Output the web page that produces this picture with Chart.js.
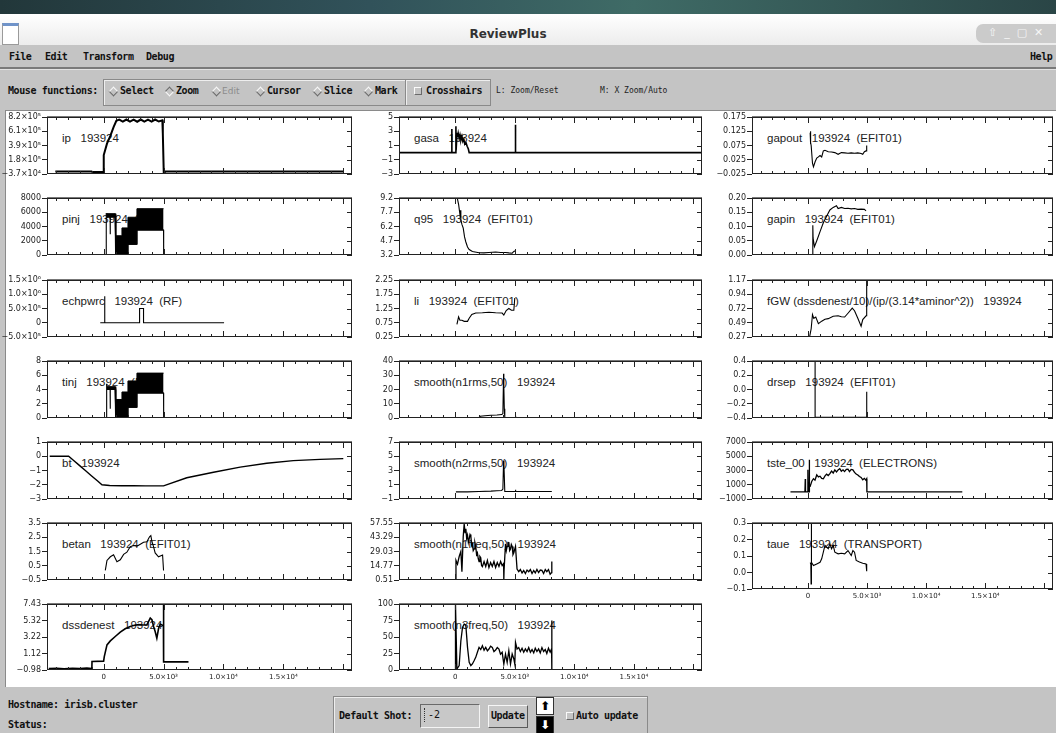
<!DOCTYPE html>
<html lang="en">
<head>
<meta charset="UTF-8">
<title>ReviewPlus</title>
<script src="https://cdn.jsdelivr.net/npm/chart.js"></script>
<style>
  body { margin: 0; width: 1056px; height: 733px; overflow: hidden; position: relative; background: #c4c4c4; font-family: 'DejaVu Sans Mono', monospace; }
  .abs { position: absolute; white-space: pre; }
  .mb { font-weight: bold; font-size: 10px; line-height: 12px; letter-spacing: -0.4px; color: #111; }
  .thin { font-size: 8px; line-height: 12px; color: #222; }
  .dia { position: absolute; width: 5px; height: 5px; border: 1px solid; border-color: #fafafa #6a6a6a #6a6a6a #fafafa; transform: rotate(45deg); }
  .dia.on { border-color: #6a6a6a #fafafa #fafafa #6a6a6a; }
  .chk { position: absolute; width: 6px; height: 6px; border: 1px solid; border-color: #fafafa #6a6a6a #6a6a6a #fafafa; }
  .ptitle { position: absolute; white-space: pre; font: 11.5px 'Liberation Sans', Arial, sans-serif; line-height: 14px; color: #222; z-index: 1; }
  .pc { position: absolute; z-index: 2; }
</style>
</head>
<body>
  <!-- window decoration -->
  <div class="abs" style="left:0;top:0;width:1056px;height:14px;background:linear-gradient(90deg,#22373a,#31525a 35%,#3f6b66 60%,#2a4546)"></div>
  <div class="abs" style="left:0;top:14px;width:1056px;height:31px;background:linear-gradient(#ffffff,#ececec)"></div>
  <div class="abs" style="left:2px;top:23px;width:15px;height:18px;background:#fff;border:1px solid #9a9a9a;border-top:3px solid #6f93c9"></div>
  <div class="abs" style="left:0;top:27px;width:1016px;text-align:center;font:bold 12px 'DejaVu Sans',sans-serif;color:#333">ReviewPlus</div>
  <div class="abs" style="left:976px;top:24px;width:86px;height:19px;background:#cbcbcb;border-radius:7px 0 0 7px"></div>
  <div class="abs" style="left:988px;top:26px;font:11px 'DejaVu Sans',sans-serif;color:#f6f6f6;line-height:14px">⇧  _  ▢  ✕</div>

  <!-- menu bar -->
  <div class="abs mb" style="left:9px;top:51px">File</div>
  <div class="abs mb" style="left:45px;top:51px">Edit</div>
  <div class="abs mb" style="left:83px;top:51px">Transform</div>
  <div class="abs mb" style="left:146px;top:51px">Debug</div>
  <div class="abs mb" style="left:1030px;top:51px">Help</div>
  <div class="abs" style="left:0;top:67px;width:1056px;height:2px;background:#7a7a7a"></div>
  <div class="abs" style="left:0;top:69px;width:1056px;height:1px;background:#e2e2e2"></div>

  <!-- mouse functions -->
  <div class="abs mb" style="left:8px;top:85px">Mouse functions:</div>
  <div class="abs" style="left:103px;top:79px;width:302px;height:25px;border:1px solid #8a8a8a;box-shadow:inset 1px 1px #eeeeee"></div>
  <div class="abs" style="left:405px;top:79px;width:84px;height:25px;border:1px solid #8a8a8a;box-shadow:inset 1px 1px #eeeeee"></div>
  <span class="dia" style="left:110px;top:88px"></span><div class="abs mb" style="left:120px;top:85px">Select</div>
  <span class="dia on" style="left:166px;top:88px"></span><div class="abs mb" style="left:176px;top:85px">Zoom</div>
  <span class="dia" style="left:213px;top:88px"></span><div class="abs" style="left:222px;top:85px;font:9px 'DejaVu Sans',sans-serif;line-height:12px;color:#8c8c8c">Edit</div>
  <span class="dia" style="left:257px;top:88px"></span><div class="abs mb" style="left:267px;top:85px">Cursor</div>
  <span class="dia" style="left:314px;top:88px"></span><div class="abs mb" style="left:324px;top:85px">Slice</div>
  <span class="dia" style="left:365px;top:88px"></span><div class="abs mb" style="left:375px;top:85px">Mark</div>
  <span class="chk" style="left:414px;top:87px"></span><div class="abs mb" style="left:426px;top:85px">Crosshairs</div>
  <div class="abs thin" style="left:496px;top:85px">L: Zoom/Reset</div>
  <div class="abs thin" style="left:600px;top:85px">M: X Zoom/Auto</div>

  <!-- plot panel -->
  <div class="abs" style="left:5px;top:110px;width:1051px;height:577px;box-sizing:border-box;background:#fff;border-top:1px solid #8a8a8a;border-left:1px solid #8a8a8a;z-index:0"></div>

  <!-- bottom bar -->
  <div class="abs mb" style="left:8px;top:699px">Hostname: irisb.cluster</div>
  <div class="abs mb" style="left:8px;top:719px">Status:</div>
  <div class="abs" style="left:333px;top:696px;width:313px;height:40px;border:1px solid #8a8a8a;box-shadow:inset 1px 1px #eeeeee"></div>
  <div class="abs mb" style="left:339px;top:710px">Default Shot:</div>
  <div class="abs" style="left:420px;top:704px;width:58px;height:22px;border:1px solid;border-color:#6a6a6a #f4f4f4 #f4f4f4 #6a6a6a;background:#c8c8c8"></div>
  <div class="abs" style="left:424px;top:708px;width:1px;height:14px;border-left:1px dotted #333"></div>
  <div class="abs" style="left:428px;top:709px;font:10px 'DejaVu Sans Mono',monospace;line-height:12px;color:#111">-2</div>
  <div class="abs" style="left:488px;top:705px;width:38px;height:21px;border:1px solid;border-color:#f6f6f6 #5a5a5a #5a5a5a #f6f6f6;background:#c8c8c8"></div>
  <div class="abs mb" style="left:491px;top:710px">Update</div>
  <div class="abs" style="left:536px;top:697px;width:16px;height:16px;background:#fff;border:1px solid #333;text-align:center;font:bold 12px 'DejaVu Sans',sans-serif;line-height:16px;color:#000">⬆</div>
  <div class="abs" style="left:536px;top:716px;width:16px;height:16px;background:#000;border:1px solid #333;text-align:center;font:bold 12px 'DejaVu Sans',sans-serif;line-height:16px;color:#fff">⬇</div>
  <span class="chk" style="left:566px;top:712px"></span><div class="abs mb" style="left:576px;top:710px">Auto update</div>

<script>
  // time axis (ms) shared by all panels
  const xMin = -4725, xMax = 20725;
  const xTickVals = [0, 5000, 10000, 15000];
  const xTickText = ['0', '5.0×10³', '1.0×10⁴', '1.5×10⁴'];

  // y tick labels, 5 per panel, evenly spaced from min to max
  const ipTicks = ['−3.7×10⁴', '1.8×10⁵', '3.9×10⁵', '6.1×10⁵', '8.2×10⁵'];
  const pinjTicks = ['0', '2000', '4000', '6000', '8000'];
  const echTicks = ['−5.0×10⁵', '0', '5.0×10⁵', '1.0×10⁶', '1.5×10⁶'];
  const tinjTicks = ['0', '2', '4', '6', '8'];
  const btTicks = ['−3', '−2', '−1', '0', '1'];
  const betanTicks = ['−0.5', '0.5', '1.5', '2.5', '3.5'];
  const dssTicks = ['−0.98', '1.12', '3.22', '5.32', '7.43'];
  const gasaTicks = ['−3', '−1', '1', '3', '5'];
  const q95Ticks = ['3.2', '4.7', '6.2', '7.7', '9.2'];
  const liTicks = ['0.25', '0.75', '1.25', '1.75', '2.25'];
  const n1rmsTicks = ['0', '10', '20', '30', '40'];
  const n2rmsTicks = ['−1', '1', '3', '5', '7'];
  const n1freqTicks = ['0.51', '14.77', '29.03', '43.29', '57.55'];
  const n3freqTicks = ['0', '25', '50', '75', '100'];
  const gapoutTicks = ['−0.025', '0.025', '0.075', '0.125', '0.175'];
  const gapinTicks = ['0.00', '0.05', '0.10', '0.15', '0.20'];
  const fgwTicks = ['0.27', '0.49', '0.72', '0.94', '1.17'];
  const drsepTicks = ['−0.4', '−0.2', '0.0', '0.2', '0.4'];
  const tsteTicks = ['−1000', '1000', '3000', '5000', '7000'];
  const taueTicks = ['−0.1', '0.0', '0.1', '0.2', '0.3'];

  // signals, [time, value]
  const ip = [[-4030, 1000], [-1000, 1000], [-950, -6000], [0, -6000], [10, 248000], [280, 420000], [560, 535000], [830, 668000], [1060, 763000],
    [1300, 780000], [1600, 750000], [1900, 782000], [2200, 752000], [2500, 780000], [2800, 749000], [3100, 782000], [3400, 752000],
    [3700, 780000], [4000, 750000], [4300, 782000], [4600, 752000], [4900, 770000], [4940, 572000], [5020, -37000], [5150, 1000], [20000, 1000]];
  const pinj = [[0, 0], [200, 0], [220, 5800], [540, 5600], [550, 2900], [560, 5600], [960, 5700], [970, 0], [1030, 0], [2030, 0], [2030, 1500],
    [2780, 1500], [2780, 3500], [5000, 3500], [5010, 0], [13200, 0]];
  const pinjHi = [[220, 5800], [970, 5800], [970, 0], [1030, 0], [1030, 2700], [1530, 2700], [1530, 3800], [2030, 3800], [2030, 5300], [2780, 5300], [2780, 6500], [5000, 6500]];
  const pinjLo = [[220, 5300], [970, 5300], [970, 0], [1030, 0], [1030, 0], [1530, 0], [1530, 0], [2030, 0], [2030, 1500], [2780, 1500], [2780, 3500], [5000, 3500]];
  const echpwrc = [[-280, 0], [60, 0], [60, 930000], [110, 930000], [110, 0], [3000, 0], [3000, 500000], [3330, 500000], [3330, 0], [10050, 0]];
  const tinj = [[0, 0], [200, 0], [220, 4.8], [260, 4.8], [280, 4.3], [540, 4.2], [550, 1.3], [560, 4.2], [960, 4.2], [970, 0], [1030, 0], [2030, 0],
    [2030, 1.5], [2780, 1.5], [2780, 3.5], [5000, 3.5], [5010, 0], [13200, 0]];
  const tinjHi = [[280, 4.4], [970, 4.4], [970, 0], [1030, 0], [1030, 2.6], [1530, 2.6], [1530, 3.65], [2030, 3.65], [2030, 5.2], [2780, 5.2], [2780, 6.3], [5000, 6.3]];
  const tinjLo = [[280, 4.0], [970, 4.0], [970, 0], [1030, 0], [1030, 0], [1530, 0], [1530, 0], [2030, 0], [2030, 1.5], [2780, 1.5], [2780, 3.5], [5000, 3.5]];
  const bt = [[-4500, 0], [-2920, 0], [-2500, -0.3], [-2000, -0.66], [-1500, -1.02], [-1000, -1.38], [-500, -1.74], [-140, -2.0], [500, -2.05],
    [1500, -2.07], [2500, -2.06], [3500, -2.08], [4500, -2.08], [5000, -2.08], [6940, -1.51], [9170, -1.12], [11390, -0.76], [13610, -0.49],
    [15830, -0.31], [18060, -0.22], [20000, -0.17]];
  const betan = [[140, 0.17], [280, 0.87], [560, 1.13], [830, 1.27], [1110, 0.78], [1390, 0.92], [1670, 1.3], [1940, 1.45], [2220, 1.83],
    [2500, 1.92], [2780, 1.87], [3060, 2.01], [3330, 2.15], [3610, 2.18], [3830, 2.53], [3940, 2.62], [4030, 2.2], [4170, 1.83], [4300, 1.4],
    [4580, 1.13], [4920, 1.25], [5000, 0.17]];
  const dssdenest = [[-4580, -0.8], [-3900, -0.75], [-3300, -0.82], [-2600, -0.76], [-2000, -0.8], [-1400, -0.74], [-980, -0.78], [-970, 0.1],
    [0, 0.15], [55, 0.73], [280, 2.22], [560, 2.73], [970, 3.29], [1390, 3.84], [1800, 4.27], [2220, 4.57], [2500, 4.7], [2900, 4.8], [3300, 4.75],
    [3610, 4.78], [3890, 5.64], [4030, 5.42], [4170, 4.57], [4300, 3.93], [4440, 3.07], [4580, 4.27], [4720, 4.87], [4920, 4.7], [4990, 4.6],
    [5000, 7.43], [5010, 0.05], [7080, 0.05]];
  const gasa = [[-4725, 0], [-300, 0], [-290, 3.3], [-280, 0], [40, 0], [55, 3.7], [70, 0.3], [150, 2.8], [200, 2.2], [250, 2.7], [330, 2.0],
    [400, 2.5], [480, 1.8], [560, 2.3], [640, 1.6], [720, 1.9], [800, 1.2], [900, 1.4], [1000, 0.9], [1100, 0.5], [1170, 0], [5040, 0],
    [5055, 3.9], [5070, 0], [20725, 0]];
  const q95 = [[100, 9.6], [280, 8.54], [390, 7.5], [430, 7.9], [470, 6.9], [560, 6.42], [670, 6.03], [780, 5.1], [890, 4.57], [1030, 4.05],
    [1170, 3.78], [1440, 3.57], [2000, 3.44], [2400, 3.42], [2830, 3.46], [3390, 3.52], [3800, 3.47], [4220, 3.47], [4500, 3.42], [4780, 3.39],
    [4920, 3.57], [5060, 3.65]];
  const li = [[140, 0.69], [280, 0.955], [390, 0.84], [560, 0.84], [750, 0.8], [1030, 0.8], [1170, 0.91], [1390, 1.04], [1720, 1.09], [2280, 1.1],
    [2830, 1.12], [3390, 1.1], [3940, 1.09], [4080, 1.02], [4280, 1.18], [4500, 1.25], [4720, 1.19], [4920, 1.19], [5000, 1.62]];
  const n1rms = [[55, 0.4], [2000, 0.4], [2100, 1.2], [2500, 1.6], [3000, 1.9], [3500, 2.1], [3900, 2.4], [4000, 3.0], [4060, 31], [4080, 22],
    [4120, 6.5], [4160, 0.4], [5040, 0.4], [5060, 1.5], [5080, 0.4], [8110, 0.4]];
  const n2rms = [[55, 0], [1000, 0], [2000, 0.05], [3000, 0.1], [3500, 0.15], [3900, 0.2], [4000, 0.4], [4060, 4.4], [4090, 3.8], [4160, 0.05],
    [5040, 0.05], [5060, 0.3], [5080, 0.05], [8110, 0.05]];
  const n1freq = [[55, 0.51], [60, 20.2], [190, 16.4], [330, 24.0], [470, 29.0], [560, 8.8], [670, 44.2], [750, 56.8], [820, 48], [890, 51.7],
    [960, 42], [1030, 45.4], [1100, 38], [1170, 41.6], [1240, 46], [1310, 44.2], [1380, 35], [1440, 36.6], [1510, 30], [1580, 31.6], [1650, 38],
    [1720, 34.1], [1790, 26], [1860, 27.8], [1930, 22], [2000, 18.9], [2070, 24], [2140, 22.7], [2210, 15], [2280, 13.9], [2420, 19], [2560, 14],
    [2700, 20], [2830, 13], [2970, 18], [3110, 14], [3250, 19], [3390, 13], [3530, 18], [3670, 14], [3810, 19], [3940, 15], [4060, 17],
    [4080, 0.51], [4100, 10], [4220, 36.6], [4290, 30], [4360, 34.1], [4430, 38], [4500, 37.9], [4570, 30], [4640, 31.6], [4710, 36], [4780, 34.1],
    [4850, 26], [4920, 27.8], [5060, 34.1], [5190, 11.4], [5330, 8.8], [5470, 11], [5610, 7.6], [5750, 10], [5890, 7], [6030, 10.5], [6170, 8.8],
    [6310, 11], [6450, 7], [6590, 10], [6720, 7.6], [6860, 11], [7000, 8], [7140, 10.5], [7280, 10.1], [7420, 7], [7560, 11], [7690, 8.8],
    [7830, 11], [7970, 6.3], [8100, 8], [8110, 18.9]];
  const n3freq = [[0, 0], [20, 100], [140, 1.5], [330, 6.6], [470, 44], [610, 64.6], [750, 69.7], [890, 67.2], [1030, 34.3], [1170, 11.6],
    [1310, 6.6], [1440, 9.1], [1580, 14], [1720, 19.2], [1860, 27], [2000, 34.3], [2140, 31], [2280, 36.9], [2420, 30], [2560, 34.3], [2700, 29],
    [2830, 31.8], [2970, 36], [3110, 34.3], [3250, 28], [3390, 30.3], [3530, 34], [3670, 31.8], [3800, 24], [3940, 26.8], [4080, 9.1], [4220, 24.2],
    [4360, 11.6], [4500, 29.3], [4640, 9.1], [4780, 24.2], [4920, 16.7], [5000, 9.1], [5060, 41.9], [5190, 31.8], [5330, 34], [5470, 28], [5610, 33],
    [5750, 27], [5890, 32], [6030, 28], [6170, 34], [6310, 27], [6450, 31], [6590, 26], [6720, 33], [6860, 28], [7000, 32], [7140, 26], [7280, 34],
    [7420, 28], [7560, 31], [7690, 25], [7830, 33], [7970, 27], [8090, 32], [8110, 75], [8115, 0]];
  const gapout = [[194, 0.12], [200, 0.08], [230, 0.125], [260, 0.085], [278, 0.075], [389, 0.013], [472, 0.0], [611, 0.018], [750, 0.031],
    [889, 0.035], [1028, 0.04], [1167, 0.035], [1306, 0.056], [1444, 0.058], [1722, 0.053], [2000, 0.052], [2278, 0.05], [2556, 0.044],
    [2833, 0.05], [3111, 0.049], [3389, 0.048], [3667, 0.049], [3944, 0.048], [4222, 0.049], [4500, 0.047], [4639, 0.044], [4778, 0.053],
    [4917, 0.056], [4972, 0.075]];
  const gapin = [[0, 0.002], [400, 0.002], [417, 0.104], [440, 0.06], [556, 0.029], [750, 0.05], [1028, 0.082], [1306, 0.113], [1583, 0.136],
    [1861, 0.158], [2139, 0.167], [2417, 0.173], [2556, 0.163], [2833, 0.167], [3111, 0.163], [3389, 0.164], [3667, 0.162], [3944, 0.163],
    [4222, 0.16], [4500, 0.161], [4778, 0.16], [4917, 0.155]];
  const fgw = [[111, 0.24], [278, 0.4], [389, 0.625], [500, 0.565], [667, 0.585], [889, 0.48], [1167, 0.52], [1444, 0.55], [1722, 0.56],
    [2139, 0.597], [2556, 0.605], [2833, 0.59], [3111, 0.585], [3389, 0.645], [3750, 0.726], [3944, 0.685], [4222, 0.565], [4500, 0.44],
    [4639, 0.545], [4917, 0.605], [4972, 1.2]];
  const drsep = [[400, 0.4], [610, 0.4], [611, -0.39], [4972, -0.39], [4975, -0.03]];
  const tste = [[-1472, 0], [-250, 0], [-222, 1800], [-200, 0], [-30, 0], [0, 3090], [30, 0], [100, 0], [111, 4500], [125, 0], [150, 800],
    [194, 778], [333, 1490], [472, 1840], [600, 1650], [750, 2380], [890, 2100], [1028, 2200], [1167, 1900], [1306, 1844], [1450, 2250],
    [1583, 2484], [1720, 2300], [1861, 2556], [2000, 2911], [2140, 2650], [2278, 3089], [2420, 2800], [2556, 3089], [2694, 3267], [2830, 2900],
    [2972, 3089], [3100, 2850], [3250, 3150], [3389, 3196], [3520, 2850], [3660, 3150], [3806, 3089], [3944, 2733], [4080, 2500], [4222, 2378],
    [4360, 2150], [4500, 2022], [4640, 1700], [4778, 1900], [4900, 1650], [4972, 1844], [4990, 0], [13056, 0]];
  const taue = [[200, 0.06], [250, 0.05], [270, -0.07], [278, 0.3], [290, 0.05], [333, 0.062], [472, 0.042], [750, 0.052], [1028, 0.062],
    [1167, 0.083], [1306, 0.123], [1444, 0.164], [1583, 0.154], [1722, 0.144], [1861, 0.174], [2000, 0.144], [2139, 0.164], [2278, 0.123],
    [2556, 0.113], [2833, 0.117], [3111, 0.113], [3389, 0.133], [3667, 0.103], [3806, 0.133], [3944, 0.123], [4083, 0.073], [4361, 0.063],
    [4639, 0.056], [4917, 0.052], [4972, 0.008]];

  const panels = [
    { col: 0, row: 0, title: 'ip   193924', y: [-37000, 820000], ticks: ipTicks, lines: [ip], width: 2 },
    { col: 0, row: 1, title: 'pinj   193924  (NB)', y: [0, 8000], ticks: pinjTicks, lines: [pinj], band: [pinjHi, pinjLo] },
    { col: 0, row: 2, title: 'echpwrc   193924  (RF)', y: [-500000, 1500000], ticks: echTicks, lines: [echpwrc] },
    { col: 0, row: 3, title: 'tinj   193924  (NB)', y: [0, 8], ticks: tinjTicks, lines: [tinj], band: [tinjHi, tinjLo] },
    { col: 0, row: 4, title: 'bt   193924', y: [-3, 1], ticks: btTicks, lines: [bt], width: 1.4 },
    { col: 0, row: 5, title: 'betan   193924  (EFIT01)', y: [-0.5, 3.5], ticks: betanTicks, lines: [betan] },
    { col: 0, row: 6, title: 'dssdenest   193924', y: [-0.98, 7.43], ticks: dssTicks, lines: [dssdenest], width: 1.6 },
    { col: 1, row: 0, title: 'gasa   193924', y: [-3, 5], ticks: gasaTicks, lines: [gasa], width: 1.6 },
    { col: 1, row: 1, title: 'q95   193924  (EFIT01)', y: [3.2, 9.2], ticks: q95Ticks, lines: [q95] },
    { col: 1, row: 2, title: 'li   193924  (EFIT01)', y: [0.25, 2.25], ticks: liTicks, lines: [li] },
    { col: 1, row: 3, title: 'smooth(n1rms,50)   193924', y: [0, 40], ticks: n1rmsTicks, lines: [n1rms] },
    { col: 1, row: 4, title: 'smooth(n2rms,50)   193924', y: [-1, 7], ticks: n2rmsTicks, lines: [n2rms] },
    { col: 1, row: 5, title: 'smooth(n1freq,50)   193924', y: [0.51, 57.55], ticks: n1freqTicks, lines: [n1freq], width: 1.3 },
    { col: 1, row: 6, title: 'smooth(n3freq,50)   193924', y: [0, 100], ticks: n3freqTicks, lines: [n3freq], width: 1.3 },
    { col: 2, row: 0, title: 'gapout   193924  (EFIT01)', y: [-0.025, 0.175], ticks: gapoutTicks, lines: [gapout] },
    { col: 2, row: 1, title: 'gapin   193924  (EFIT01)', y: [0, 0.2], ticks: gapinTicks, lines: [gapin] },
    { col: 2, row: 2, title: 'fGW (dssdenest/10)/(ip/(3.14*aminor^2))   193924', y: [0.27, 1.17], ticks: fgwTicks, lines: [fgw] },
    { col: 2, row: 3, title: 'drsep   193924  (EFIT01)', y: [-0.4, 0.4], ticks: drsepTicks, lines: [drsep] },
    { col: 2, row: 4, title: 'tste_00   193924  (ELECTRONS)', y: [-1000, 7000], ticks: tsteTicks, lines: [tste], width: 1.3 },
    { col: 2, row: 5, title: 'taue   193924  (TRANSPORT)', y: [-0.1, 0.3], ticks: taueTicks, lines: [taue] }
  ];

  // layout of the three plot columns
  const colCanvasLeft = [0, 360, 712];
  const colPlotLeft = [47, 399, 752];
  const colPlotRight = [352, 702, 1053];
  const rowTop = [117, 198, 280, 361, 442, 523, 604];

  Chart.defaults.font.family = "'DejaVu Sans', sans-serif";

  function line(points, extra) {
    return Object.assign({
      data: points.map(p => ({ x: p[0], y: p[1] })),
      borderColor: '#000', borderWidth: 1, pointRadius: 0, tension: 0, fill: false
    }, extra);
  }

  // IDL style box: right-side ticks and inward minor/major ticks on top and bottom
  const idlFrame = {
    id: 'idlFrame',
    afterDraw(chart) {
      const { ctx, chartArea: a, scales: { x, y } } = chart;
      ctx.save();
      ctx.strokeStyle = '#222';
      ctx.lineWidth = 1;
      ctx.strokeRect(a.left + 0.5, a.top + 0.5, a.right - a.left - 1, a.bottom - a.top - 1);
      ctx.beginPath();
      y.ticks.forEach(t => {
        const p = Math.round(y.getPixelForValue(t.value)) + 0.5;
        ctx.moveTo(a.right - 5, p);
        ctx.lineTo(a.right, p);
      });
      for (let v = -4000; v <= 20000; v += 1000) {
        const p = Math.round(x.getPixelForValue(v)) + 0.5;
        const len = v % 5000 === 0 ? 6 : 3;
        ctx.moveTo(p, a.bottom);
        ctx.lineTo(p, a.bottom - len);
        ctx.moveTo(p, a.top);
        ctx.lineTo(p, a.top + len);
      }
      ctx.stroke();
      ctx.strokeStyle = '#777';
      ctx.beginPath();
      ctx.moveTo(a.left, a.top - 0.5);
      ctx.lineTo(a.right, a.top - 0.5);
      ctx.stroke();
      ctx.restore();
    }
  };

  panels.forEach(p => {
    const last = p.row === (p.col === 2 ? 5 : 6);
    const plotH = last ? 66 : 75;
    const left = colCanvasLeft[p.col];
    const top = rowTop[p.row] - 6;
    const padR = p.col === 2 ? 3 : 6;
    const w = colPlotRight[p.col] + padR - left;
    const h = 6 + plotH + (last ? 18 : 6);

    const t = document.createElement('div');
    t.className = 'ptitle';
    t.textContent = p.title;
    t.style.left = (colPlotLeft[p.col] + 15) + 'px';
    t.style.top = (rowTop[p.row] + 14) + 'px';
    document.body.appendChild(t);

    const c = document.createElement('canvas');
    c.className = 'pc';
    c.width = w; c.height = h;
    c.style.left = left + 'px'; c.style.top = top + 'px';
    c.style.width = w + 'px'; c.style.height = h + 'px';
    document.body.appendChild(c);

    const datasets = [];
    if (p.band) {
      datasets.push(line(p.band[0], { fill: '+1', backgroundColor: '#000' }));
      datasets.push(line(p.band[1]));
    }
    p.lines.forEach(l => datasets.push(line(l, { borderWidth: p.width || 1.1 })));

    const yMin = p.y[0], yMax = p.y[1];
    const n = p.ticks.length - 1;
    const yVals = p.ticks.map((_, i) => yMin + i * (yMax - yMin) / n);
    const yAxisW = colPlotLeft[p.col] - left;

    new Chart(c, {
      type: 'line',
      data: { datasets },
      options: {
        responsive: false,
        animation: false,
        events: [],
        layout: { padding: { left: 0, right: padR, top: 6, bottom: last ? 0 : 6 } },
        plugins: { legend: { display: false }, tooltip: { enabled: false } },
        scales: {
          x: {
            type: 'linear', min: xMin, max: xMax, display: last,
            grid: { display: false, drawTicks: false }, border: { display: false },
            afterBuildTicks: s => { s.ticks = xTickVals.map(v => ({ value: v })); },
            afterFit: s => { s.height = 18; },
            ticks: { autoSkip: false, maxRotation: 0, padding: 3, color: '#222', font: { size: 7 }, callback: (v, i) => xTickText[i] }
          },
          y: {
            type: 'linear', min: yMin, max: yMax,
            grid: { display: true, drawOnChartArea: false, drawTicks: true, tickLength: 5, color: '#222' },
            border: { display: false },
            afterBuildTicks: s => { s.ticks = yVals.map(v => ({ value: v })); },
            afterFit: s => { s.width = yAxisW; },
            ticks: { autoSkip: false, padding: 1, color: '#222', font: { size: 8 }, callback: (v, i) => p.ticks[i] }
          }
        }
      },
      plugins: [idlFrame]
    });
  });
</script>
</body>
</html>
